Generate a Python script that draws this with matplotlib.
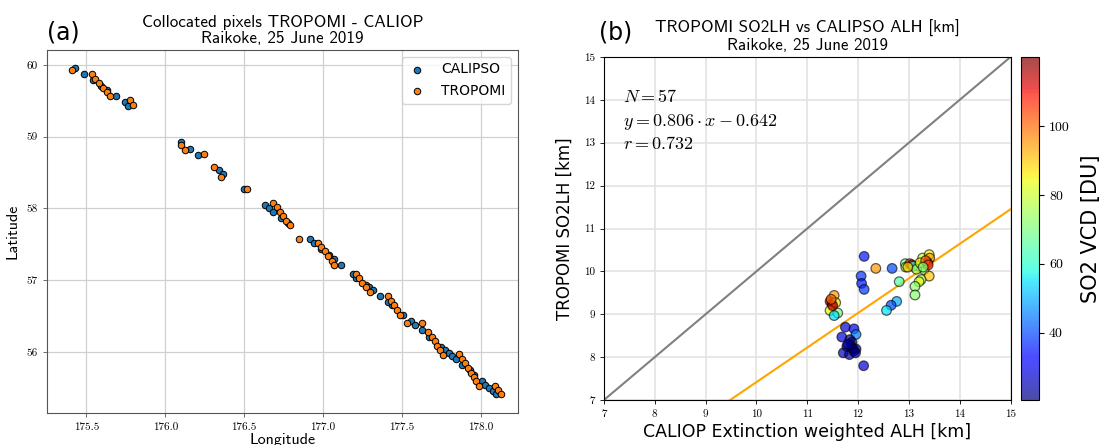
import matplotlib
matplotlib.use("Agg")
import matplotlib.pyplot as plt
from matplotlib.colors import ListedColormap
import numpy as np

plt.rcParams['mathtext.fontset'] = 'cm'
plt.rcParams['axes.unicode_minus'] = False

# panel (a): collocated pixel positions
calipso_lon = [175.43, 175.485, 175.542, 175.595, 175.63, 175.686, 175.743, 175.766,
               176.10, 176.157, 176.21, 176.343, 176.368, 176.50, 176.632, 176.66, 176.685,
               176.736, 176.778, 176.915, 176.94, 176.99, 177.04, 177.067, 177.116, 177.19,
               177.21, 177.27, 177.29, 177.316, 177.363, 177.41, 177.437, 177.51, 177.56,
               177.585, 177.63, 177.675, 177.75, 177.775, 177.80, 177.82, 177.845, 177.88,
               177.93, 177.96, 178.01, 178.03, 178.055, 178.08, 178.10]
calipso_lat = [59.96, 59.88, 59.79, 59.71, 59.65, 59.57, 59.48, 59.43,
               58.92, 58.83, 58.745, 58.53, 58.48, 58.27, 58.05, 58.00, 57.95,
               57.87, 57.80, 57.57, 57.52, 57.43, 57.35, 57.30, 57.215, 57.08,
               57.03, 56.94, 56.90, 56.87, 56.78, 56.69, 56.65, 56.52, 56.43,
               56.38, 56.30, 56.21, 56.07, 56.03, 55.98, 55.94, 55.90, 55.82,
               55.75, 55.68, 55.59, 55.545, 55.50, 55.46, 55.42]
tropomi_lon = [175.409, 175.534, 175.557, 175.58, 175.603, 175.627, 175.65, 175.774, 175.798,
               176.10, 176.125, 176.245, 176.31, 176.356, 176.52, 176.685, 176.706, 176.73,
               176.748, 176.767, 176.788, 176.85, 176.97, 176.99, 177.01, 177.03, 177.055,
               177.07, 177.21, 177.23, 177.25, 177.274, 177.295, 177.41, 177.43, 177.45,
               177.47, 177.49, 177.53, 177.63, 177.665, 177.69, 177.71, 177.72, 177.74,
               177.76, 177.86, 177.88, 177.90, 177.92, 177.94, 177.955, 177.97, 177.99,
               178.09, 178.11, 178.13]
tropomi_lat = [59.93, 59.875, 59.81, 59.75, 59.68, 59.62, 59.56, 59.51, 59.44,
               58.88, 58.82, 58.76, 58.573, 58.44, 58.27, 58.08, 58.02, 57.955,
               57.89, 57.83, 57.77, 57.58, 57.52, 57.46, 57.40, 57.34, 57.27,
               57.21, 57.09, 57.03, 56.96, 56.90, 56.84, 56.78, 56.71, 56.65,
               56.58, 56.52, 56.40, 56.40, 56.28, 56.21, 56.15, 56.09, 56.03,
               55.96, 55.965, 55.90, 55.84, 55.77, 55.71, 55.65, 55.59, 55.53,
               55.53, 55.47, 55.41]

# panel (b): layer heights [km] and SO2 VCD [DU]
caliop_alh = [12.12, 12.35, 12.67, 12.93, 12.94, 13.02, 13.06, 13.20, 13.27, 13.40,
              13.41, 13.37, 13.30, 13.40, 13.24, 13.20, 13.12, 13.12, 12.81, 12.76,
              12.65, 12.56, 12.06, 12.07, 12.12, 11.53, 11.45, 11.49, 11.56, 11.45,
              11.60, 11.53, 11.75, 11.92, 11.96, 11.68, 11.84, 11.86, 11.96, 11.71,
              11.83, 11.92, 11.78, 12.11, 13.08, 13.15, 13.22, 13.33, 13.38, 12.98,
              13.28, 11.88, 11.90, 11.80, 11.95, 11.50, 11.47]
tropomi_so2lh = [10.35, 10.07, 10.07, 10.18, 10.10, 10.18, 10.15, 10.12, 10.31, 10.39,
                 10.31, 10.20, 10.04, 9.89, 9.81, 9.76, 9.65, 9.45, 9.76, 9.30,
                 9.21, 9.09, 9.89, 9.72, 9.58, 9.44, 9.30, 9.25, 9.27, 9.09,
                 9.03, 8.97, 8.70, 8.66, 8.53, 8.47, 8.41, 8.27, 8.19, 8.10,
                 8.06, 8.14, 8.25, 7.80, 10.12, 10.05, 10.20, 10.25, 10.15, 10.10,
                 10.10, 8.35, 8.20, 8.30, 8.10, 9.20, 9.35]
so2_vcd = [35, 95, 40, 70, 75, 105, 110, 80, 80, 85,
           95, 110, 78, 90, 78, 82, 72, 72, 65, 50,
           40, 55, 38, 35, 38, 95, 112, 120.2, 88, 85,
           70, 55, 28, 30, 45, 28, 22, 22, 22, 26,
           25, 24, 23, 28, 60, 75, 85, 100, 105, 90,
           70, 20.4, 21, 24, 22, 115, 100]

fit_slope = 0.806
fit_offset = -0.642
fit_r = 0.732

# jet with transparency, so the colorbar looks faded like the points
jet_a = plt.cm.jet(np.linspace(0, 1, 256))
jet_a[:, 3] = 0.7
jet_a = ListedColormap(jet_a)

fig = plt.figure(figsize=(11.02, 4.45), dpi=100)
ax1 = fig.add_axes([0.0427, 0.072, 0.427, 0.816])
ax2 = fig.add_axes([0.548, 0.101, 0.369, 0.771])
cax = fig.add_axes([0.9265, 0.101, 0.0165, 0.771])

# ---- (a)
ax1.scatter(calipso_lon, calipso_lat, s=22, c='C0', edgecolors='k', linewidths=0.7,
            label='CALIPSO', zorder=3)
ax1.scatter(tropomi_lon, tropomi_lat, s=22, c='C1', edgecolors='k', linewidths=0.7,
            label='TROPOMI', zorder=3)
ax1.set_xlim(175.25, 178.234)
ax1.set_ylim(55.15, 60.21)
ax1.set_xticks([175.5, 176.0, 176.5, 177.0, 177.5, 178.0])
ax1.set_yticks([56, 57, 58, 59, 60])
ax1.grid(True, color='#d0d0d0', lw=0.9)
ax1.set_axisbelow(True)
for lab in ax1.get_xticklabels() + ax1.get_yticklabels():
    lab.set_fontfamily('cmr10')
    lab.set_fontsize(8)
ax1.tick_params(length=3, width=0.6, color='#555555')
for sp in ax1.spines.values():
    sp.set_color('#555555')
ax1.set_xlabel('Longitude', family='cmss10', fontsize=11.5, labelpad=1)
ax1.set_ylabel('Latitude', family='cmss10', fontsize=11.5, labelpad=5)
ax1.set_title('Collocated pixels TROPOMI - CALIOP\nRaikoke, 25 June 2019',
              family='cmss10', fontsize=12.3, linespacing=1.1, pad=5)
leg = ax1.legend(loc='upper right', fontsize=10, handlelength=1.4, handletextpad=1.0,
                 borderpad=0.4, labelspacing=0.55, framealpha=0.8)
fig.text(0.043, 0.912, '(a)', fontsize=17)

# ---- (b)
lims = [7, 15]
ax2.plot(lims, lims, color='grey', lw=1.5, zorder=2)
xf = np.array(lims, dtype=float)
ax2.plot(xf, fit_slope * xf + fit_offset, color='orange', lw=1.5, zorder=2)
sc = ax2.scatter(caliop_alh, tropomi_so2lh, c=so2_vcd, cmap=jet_a, s=48,
                 edgecolors=(0, 0, 0, 0.6), linewidths=0.9, zorder=3)
ax2.set_xlim(lims)
ax2.set_ylim(lims)
ax2.set_xticks(range(7, 16))
ax2.set_yticks(range(7, 16))
ax2.grid(True, color='#e3e3e3', lw=1.2)
ax2.set_axisbelow(True)
for lab in ax2.get_xticklabels() + ax2.get_yticklabels():
    lab.set_fontfamily('cmr10')
    lab.set_fontsize(8)
ax2.tick_params(length=3, width=0.6)
ax2.set_xlabel('CALIOP Extinction weighted ALH [km]', fontsize=12.5, labelpad=3)
ax2.set_ylabel('TROPOMI SO2LH [km]', fontsize=12, labelpad=7)
ax2.set_title('TROPOMI SO2LH vs CALIPSO ALH [km]\nRaikoke, 25 June 2019',
              family='cmss10', fontsize=12.2, linespacing=1.1, pad=5)
sign = '-' if fit_offset < 0 else '+'
ax2.text(0.048, 0.868, r'$N = %d$' % len(caliop_alh), transform=ax2.transAxes, fontsize=13)
ax2.text(0.048, 0.8, r'$y = %.3f \cdot x %s %.3f$' % (fit_slope, sign, abs(fit_offset)),
         transform=ax2.transAxes, fontsize=13)
ax2.text(0.048, 0.732, r'$r = %.3f$' % fit_r, transform=ax2.transAxes, fontsize=13)
fig.text(0.544, 0.912, '(b)', fontsize=17)

cb = fig.colorbar(sc, cax=cax)
cb.set_ticks([40, 60, 80, 100])
for lab in cax.get_yticklabels():
    lab.set_fontfamily('cmr10')
    lab.set_fontsize(10)
cb.set_label('SO2 VCD [DU]', fontsize=15, labelpad=8)
cb.outline.set_linewidth(0.8)

fig.savefig('out.png', dpi=100)
